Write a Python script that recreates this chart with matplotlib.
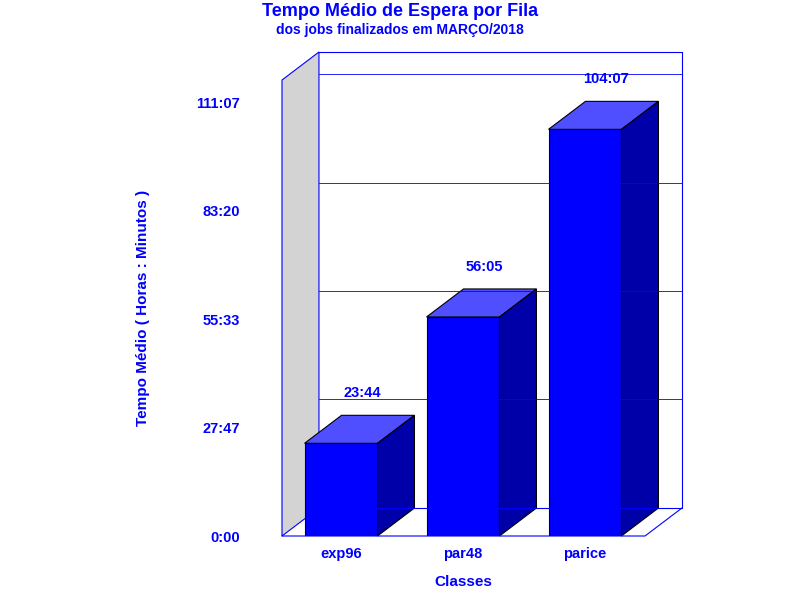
import matplotlib.pyplot as plt
from matplotlib.patches import Polygon

plt.rcParams['font.family'] = ['Liberation Sans', 'DejaVu Sans']

classes = ['exp96', 'par48', 'parice']
minutes = [1424, 3365, 6247]          # 23:44, 56:05, 104:07
labels = ['23:44', '56:05', '104:07']
tick_vals = [0, 1667, 3333, 5000, 6667]
tick_labels = ['0:00', '27:47', '55:33', '83:20', '111:07']

blue = '#0000FF'
fig = plt.figure(figsize=(8, 6), dpi=100)
ax = fig.add_axes([282/800, 64/600, 363/800, 456/600])
ax.set_xlim(-0.484, 2.492)
ax.set_ylim(0, 7005)
for s in ax.spines.values():
    s.set_visible(False)

dx, dy = 0.303, 430   # depth offset in data units
x0, x1, ytop = -0.484, 2.492, 7005

# gray side wall
ax.add_patch(Polygon([(x0, 0), (x0 + dx, dy), (x0 + dx, ytop + dy), (x0, ytop)],
                     closed=True, fc='#D3D3D3', ec=blue, lw=0.8, clip_on=False))
# back wall frame and grid
ax.plot([x0 + dx, x1 + dx, x1 + dx, x0 + dx], [ytop + dy, ytop + dy, dy, dy],
        color=blue, lw=0.8, clip_on=False)
for t in tick_vals[1:]:
    ax.plot([x0 + dx, x1 + dx], [t + dy, t + dy], color=blue, lw=0.6, clip_on=False)
# floor
ax.plot([x0, x1, x1 + dx], [0, 0, dy], color=blue, lw=0.8, clip_on=False)

hw = 0.299
for i, (v, lab) in enumerate(zip(minutes, labels)):
    l, r = i - hw, i + hw
    ax.add_patch(Polygon([(l, 0), (r, 0), (r, v), (l, v)], fc=blue, ec='black', lw=0.8))
    ax.add_patch(Polygon([(l, v), (r, v), (r + dx, v + dy), (l + dx, v + dy)],
                         fc='#4F4FFF', ec='black', lw=0.8, clip_on=False))
    ax.add_patch(Polygon([(r, 0), (r + dx, dy), (r + dx, v + dy), (r, v)],
                         fc='#0000A8', ec='black', lw=0.8, clip_on=False))
    ax.text(i + dx / 2 + 0.02, v + dy + 230, lab, ha='center', va='bottom',
            color=blue, fontsize=10.5, fontweight='bold')

ax.set_xticks(range(len(classes)))
ax.set_xticklabels(classes, color=blue, fontsize=10.5, fontweight='bold')
ax.set_yticks(tick_vals)
ax.set_yticklabels(tick_labels, color=blue, fontsize=10.5, fontweight='bold')
ax.tick_params(length=0, pad=8)
ax.tick_params(axis='y', pad=30)

fig.text(0.5, 0.98, 'Tempo Médio de Espera por Fila', ha='center', va='center',
         color=blue, fontsize=13, fontweight='bold')
fig.text(0.5, 0.95, 'dos jobs finalizados em MARÇO/2018', ha='center', va='center',
         color=blue, fontsize=10, fontweight='bold')
fig.text(143/800, 1 - 308/600, 'Tempo Médio ( Horas : Minutos )', rotation=90,
         ha='center', va='center', color=blue, fontsize=11, fontweight='bold')
fig.text(463/800, 1 - 582/600, 'Classes', ha='center', va='center',
         color=blue, fontsize=11, fontweight='bold')

fig.savefig('out.png', dpi=100)
